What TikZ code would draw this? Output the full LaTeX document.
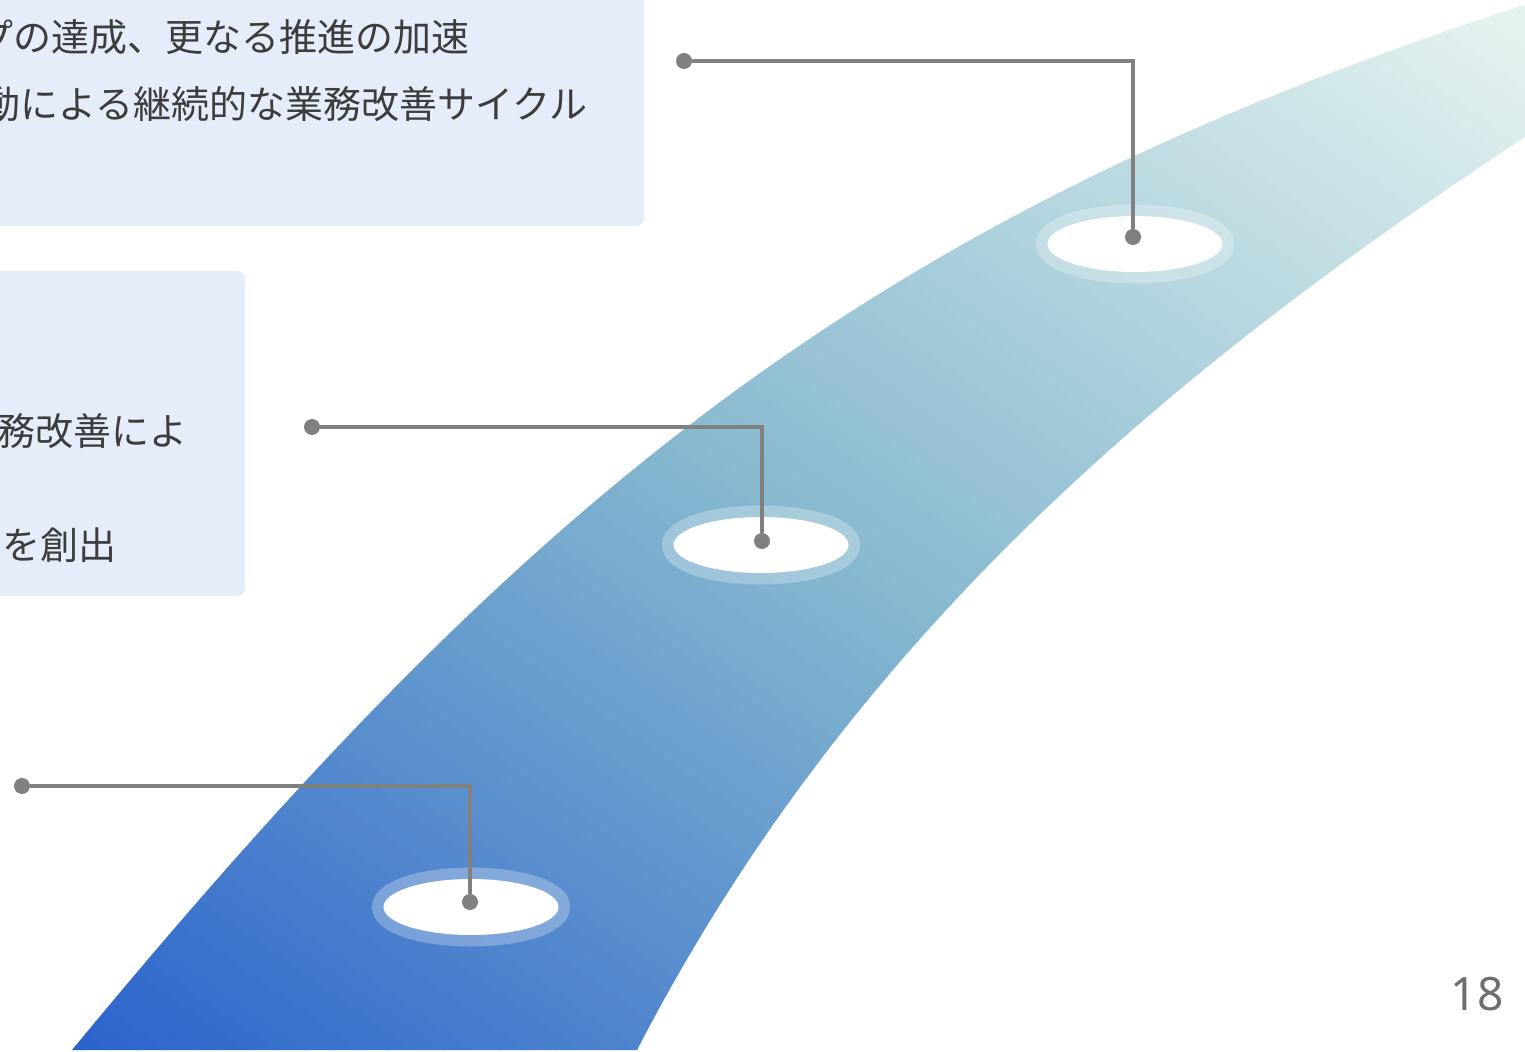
\documentclass[tikz,border=0pt]{standalone}
\usepackage{fontspec}
\usepackage{xcolor}
\usepackage{tikz}
\usetikzlibrary{shapes.geometric}
\newfontfamily\jpfont{Noto Sans CJK JP}
\newfontfamily\numfont{Noto Sans}
\definecolor{boxfill}{RGB}{229,237,250}
\definecolor{bandlo}{RGB}{44,100,204}
\definecolor{bandmid}{RGB}{133,184,207}
\definecolor{bandhi}{RGB}{227,242,239}
\definecolor{linegray}{RGB}{128,128,128}
\definecolor{textgray}{RGB}{60,60,60}
\definecolor{pagegray}{RGB}{110,110,110}

\begin{document}
\begin{tikzpicture}[x=0.5pt,y=0.5pt,
                    infobox/.style={fill=boxfill,rounded corners=4pt},
                    jptext/.style={anchor=base west,inner sep=0pt,text=textgray,
                                   font=\jpfont\fontsize{19}{19}\selectfont},
                    pit/.style={ellipse,fill=white,minimum width=87.5pt,minimum height=28pt,inner sep=0pt,
                                preaction={draw=white,draw opacity=0.27,line width=11.5pt}},
                    dot/.style={circle,fill=linegray,minimum size=8pt,inner sep=0pt},
                    leader/.style={draw=linegray,line width=1.6pt}]
                    \useasboundingbox (0,0) rectangle (1525,-1052);
                    \clip (0,0) rectangle (1525,-1052);
                    % panels
                    \fill[infobox] (-20,20) rectangle (644,-226);
                    \fill[infobox] (-20,-271) rectangle (245,-596);
                    \node[jptext] (t1a) at (-25,-52) {プの達成、更なる推進の加速};
                    \node[jptext] (t1b) at (-18,-119) {動による継続的な業務改善サイクル};
                    \node[jptext] (t2a) at (-3,-446) {務改善によ};
                    \node[jptext] (t2b) at (2,-560) {を創出};
                    % road
                    \begin{scope}
                        \clip (72,-1050) .. controls (518,-510) and (859,-218.5) .. (1525,-5)
                            -- (1525,-137) .. controls (1149,-384) and (844,-650) .. (637,-1050) -- cycle;
                        \foreach \i in {0,...,107} {
                            \pgfmathsetmacro\ua{-830+16*\i}
                            \pgfmathtruncatemacro\mixpct{200*max(0,min(1,(\ua+818)/1646))}
                            \ifnum\mixpct<100
                                \colorlet{stripe}{bandmid!\mixpct!bandlo}
                            \else
                                \pgfmathtruncatemacro\mixhi{\mixpct-100}
                                \colorlet{stripe}{bandhi!\mixhi!bandmid}
                            \fi
                            \fill[stripe,rotate=55] (\ua,-1900) rectangle ++(17,1960);
                        }
                    \end{scope}
                    \node[pit] (p1) at (1135,-244) {};
                    \node[pit] (p2) at (761,-545) {};
                    \node[pit] (p3) at (471,-907) {};
                    % leaders
                    \node[dot] (d1) at (684,-61) {};
                    \node[dot] (e1) at (1133,-237) {};
                    \node[dot] (d2) at (312,-427) {};
                    \node[dot] (e2) at (762,-541) {};
                    \node[dot] (d3) at (22,-786) {};
                    \node[dot] (e3) at (470,-902) {};
                    \draw[leader] (d1) -| (e1);
                    \draw[leader] (d2) -| (e2);
                    \draw[leader] (d3) -| (e3);
                    \node[anchor=base east,inner sep=0pt,text=pagegray,
                          font=\numfont\fontsize{23}{23}\selectfont] (pageno) at (1504,-1010) {18};
                \end{tikzpicture}
\end{document}
